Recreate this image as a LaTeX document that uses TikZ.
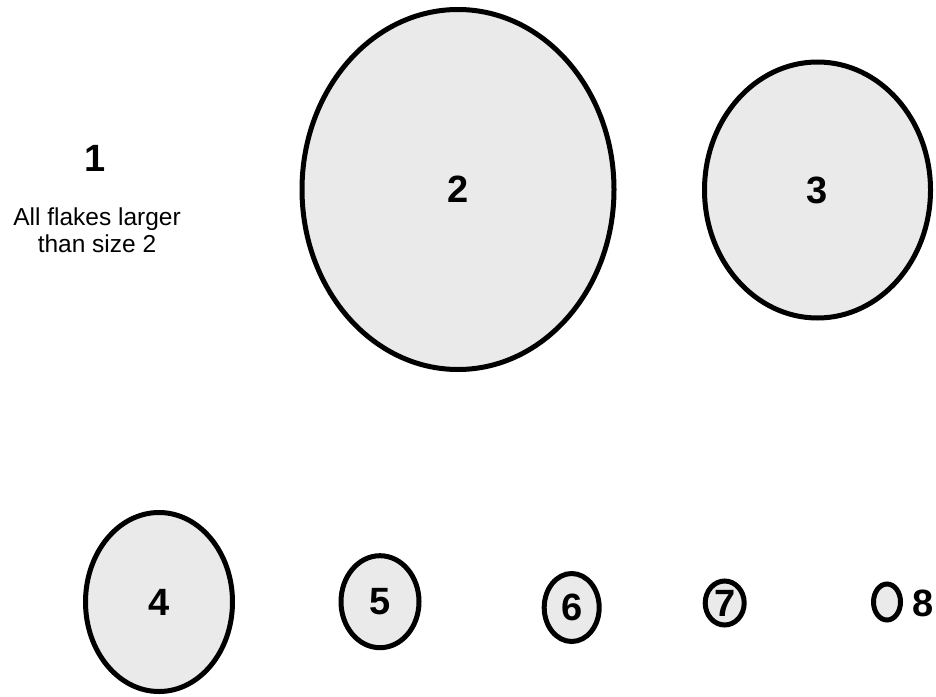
\documentclass[tikz,border=0pt]{standalone}
\usepackage{fontspec}
\setmainfont{Liberation Sans}
\usetikzlibrary{shapes.geometric}
\definecolor{flakefill}{HTML}{EAEAEA}
\tikzset{
  flake/.style={ellipse, draw=black, line width=5pt, fill=flakefill, inner sep=0pt,
    font=\fontsize{38}{40}\selectfont\bfseries},
  numlabel/.style={font=\fontsize{38}{40}\selectfont\bfseries, inner sep=0pt},
  note/.style={font=\fontsize{24.5}{27}\selectfont, align=center, inner sep=0pt}
}
\begin{document}
\begin{tikzpicture}[x=1pt,y=-1pt]
\useasboundingbox (0,0) rectangle (936,696);
\node[numlabel] (l1) at (95,158.5) {1};
\node[note] (n1) at (97,230.5) {All flakes larger\\than size 2};
\node[flake, minimum width=312pt, minimum height=360pt] (f2) at (458,189.5) {2};
\node[flake, minimum width=226pt, minimum height=256pt] (f3) at (817.5,190) {3};
\node[flake, minimum width=147pt, minimum height=179pt] (f4) at (159,602) {4};
\node[flake, minimum width=78pt, minimum height=92pt] (f5) at (380,601.7) {5};
\node[flake, minimum width=55pt, minimum height=68pt] (f6) at (571.7,607.5) {6};
\node[flake, minimum width=39pt, minimum height=44pt] (f7) at (724.7,603) {7};
\node[flake, minimum width=27pt, minimum height=36pt] (f8) at (887,602) {};
\node[numlabel] (l8) at (923.3,603.3) {8};
\end{tikzpicture}
\end{document}
